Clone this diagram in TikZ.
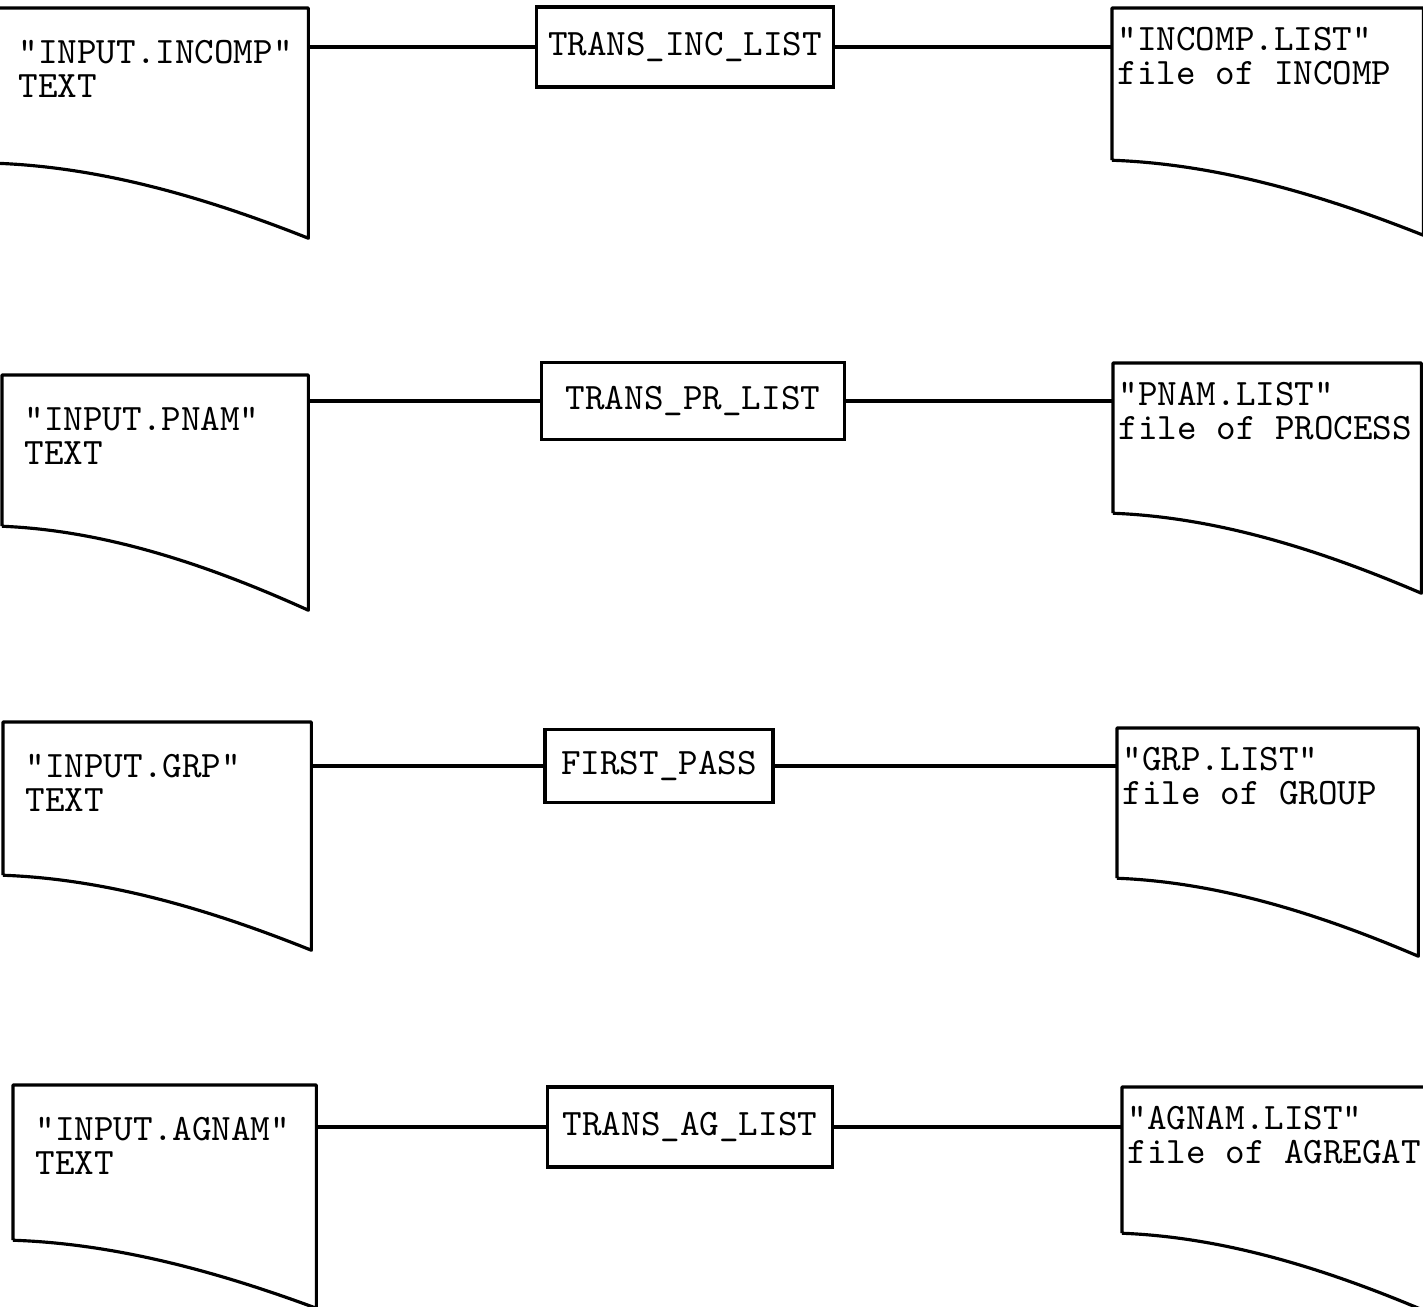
\documentclass[tikz,border=0pt]{standalone}
\usepackage{fontspec}
\usetikzlibrary{positioning,calc}
\newcommand{\typed}{\ttfamily\fontsize{10.6}{9.6}\selectfont}
\newcommand{\docoutline}[2]{%
  \draw[docline] (#1.south west) -- (#1.north west) -- (#1.north east)
    -- ($(#1.south east)+(0,#2)$)
    .. controls ($(#1.south east)!0.333!(#1.south west)+(0,0.45*#2)$)
    and ($(#1.south west)!0.333!(#1.south east)+(0,0.05*#2)$) .. (#1.south west);}
\begin{document}
\begin{tikzpicture}[x=0.01cm, y=-0.01cm, line width=0.9pt,
  docline/.style={line join=round},
  docfr/.style={inner sep=0pt, anchor=north west},
  procbox/.style={draw, rectangle, inner sep=0pt, font=\typed},
  intext/.style={font=\typed, align=left, inner sep=0pt, below right=0.31cm and 0.21cm of #1.north west},
  outtext/.style={font=\typed, align=left, inner sep=0pt, below right=0.18cm and 0.04cm of #1.north west}]
  \useasboundingbox[fill=white] (0,0) rectangle (1423,1307);

  \node[docfr, minimum width=3.09cm, minimum height=1.52cm] (inincomp) at (-4,8) {};
  \docoutline{inincomp}{75}
  \node[intext=inincomp] (inincompt) {"INPUT.INCOMP"\\TEXT};
  \node[procbox, minimum width=2.96cm, minimum height=0.80cm] (tinc) at (685,47) {TRANS\_INC\_LIST};
  \node[docfr, minimum width=3.08cm, minimum height=1.49cm] (incomp) at (1112,8) {};
  \docoutline{incomp}{75}
  \node[outtext=incomp] (incompt) {"INCOMP.LIST"\\file of INCOMP};
  \draw (inincomp.east |- tinc.west) -- (tinc.west);
  \draw (tinc.east) -- (incomp.west |- tinc.east);

  \node[docfr, minimum width=3.03cm, minimum height=1.48cm] (inpnam) at (2,375) {};
  \docoutline{inpnam}{84}
  \node[intext=inpnam] (inpnamt) {"INPUT.PNAM"\\TEXT};
  \node[procbox, minimum width=3.03cm, minimum height=0.77cm] (tpr) at (693,401) {TRANS\_PR\_LIST};
  \node[docfr, minimum width=3.05cm, minimum height=1.47cm] (pnam) at (1113,363) {};
  \docoutline{pnam}{80}
  \node[outtext=pnam] (pnamt) {"PNAM.LIST"\\file of PROCESS};
  \draw (inpnam.east |- tpr.west) -- (tpr.west);
  \draw (tpr.east) -- (pnam.west |- tpr.east);

  \node[docfr, minimum width=3.05cm, minimum height=1.50cm] (ingrp) at (3,722) {};
  \docoutline{ingrp}{75}
  \node[intext=ingrp] (ingrpt) {"INPUT.GRP"\\TEXT};
  \node[procbox, minimum width=2.28cm, minimum height=0.73cm] (fpass) at (659,766) {FIRST\_PASS};
  \node[docfr, minimum width=2.98cm, minimum height=1.47cm] (grp) at (1117,728) {};
  \docoutline{grp}{78}
  \node[outtext=grp] (grpt) {"GRP.LIST"\\file of GROUP};
  \draw (ingrp.east |- fpass.west) -- (fpass.west);
  \draw (fpass.east) -- (grp.west |- fpass.east);

  \node[docfr, minimum width=3.00cm, minimum height=1.52cm] (inagnam) at (13,1085) {};
  \docoutline{inagnam}{68}
  \node[intext=inagnam] (inagnamt) {"INPUT.AGNAM"\\TEXT};
  \node[procbox, minimum width=2.85cm, minimum height=0.80cm] (tag) at (690,1127) {TRANS\_AG\_LIST};
  \node[docfr, minimum width=3.05cm, minimum height=1.43cm] (agnam) at (1122,1087) {};
  \docoutline{agnam}{80}
  \node[outtext=agnam] (agnamt) {"AGNAM.LIST"\\file of AGREGAT};
  \draw (inagnam.east |- tag.west) -- (tag.west);
  \draw (tag.east) -- (agnam.west |- tag.east);
\end{tikzpicture}
\end{document}
